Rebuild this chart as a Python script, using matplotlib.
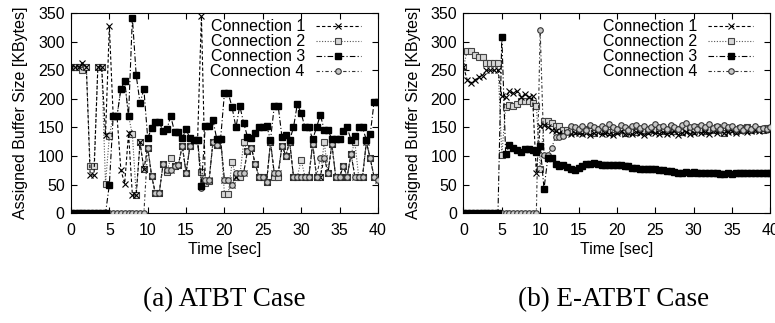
import numpy as np
import matplotlib.pyplot as plt

# time axis, one sample every 0.5 sec
t = np.arange(81) * 0.5

# (a) ATBT case
atbt_c1 = [256, 256, 256, 263, 256, 67, 67, 256, 256, 137,
           327, 170, 170, 76, 52, 140, 32, 32, 124, 77,
           115, 66, 35, 35, 86, 75, 75, 83, 85, 118,
           71, 117, 128, 128, 345, 58, 58, 124, 120, 130,
           58, 58, 50, 64, 70, 70, 109, 115, 87, 64,
           64, 55, 125, 70, 70, 118, 101, 125, 64, 64,
           64, 64, 64, 122, 64, 64, 97, 71, 121, 64,
           64, 82, 64, 104, 64, 64, 64, 124, 96, 64,
           58]
atbt_c2 = [256, 256, 256, 250, 256, 83, 83, 256, 256, 52,
           135, 170, 170, 217, 231, 170, 138, 32, 124, 77,
           115, 66, 35, 35, 86, 73, 96, 83, 85, 118,
           71, 117, 128, 128, 73, 53, 57, 125, 120, 130,
           34, 34, 90, 64, 64, 124, 109, 115, 87, 64,
           64, 55, 125, 64, 64, 118, 101, 125, 64, 64,
           93, 64, 64, 122, 64, 64, 125, 71, 121, 64,
           64, 82, 64, 104, 124, 64, 64, 128, 96, 64,
           64]
atbt_c3 = [0, 0, 0, 0, 0, 0, 0, 0, 0, 0,
           50, 170, 170, 217, 231, 170, 342, 241, 193, 217,
           131, 149, 160, 160, 143, 147, 170, 142, 142, 131,
           147, 131, 128, 128, 48, 152, 152, 163, 130, 130,
           210, 210, 185, 150, 188, 158, 134, 131, 141, 150,
           150, 153, 128, 188, 188, 133, 137, 128, 150, 191,
           175, 150, 150, 129, 150, 172, 146, 146, 129, 129,
           129, 143, 150, 128, 135, 150, 150, 128, 138, 194,
           194]
atbt_c4 = [0, 0, 0, 0, 0, 0, 0, 0, 0, 0,
           0, 0, 0, 0, 0, 0, 0, 0, 0, 0,
           115, 66, 35, 35, 86, 75, 75, 83, 85, 118,
           71, 117, 128, 128, 44, 58, 58, 124, 120, 130,
           58, 58, 50, 70, 70, 70, 109, 115, 87, 64,
           64, 55, 125, 70, 70, 118, 101, 125, 64, 64,
           64, 64, 64, 122, 64, 97, 97, 71, 121, 64,
           64, 82, 64, 104, 64, 64, 64, 124, 96, 64,
           58]

# (b) E-ATBT case
eatbt_c1 = [256, 233, 228, 233, 239, 240, 250, 250, 250, 250,
            205, 203, 213, 210, 213, 204, 208, 203, 205, 70,
            152, 154, 150, 146, 143, 140, 138, 140, 138, 140,
            140, 139, 141, 137, 140, 142, 138, 141, 139, 136,
            140, 143, 139, 141, 138, 142, 140, 137, 141, 143,
            140, 139, 142, 138, 141, 143, 137, 140, 142, 139,
            141, 144, 140, 142, 139, 143, 141, 145, 140, 142,
            144, 141, 143, 145, 142, 144, 146, 143, 145, 147,
            145]
eatbt_c2 = [256, 284, 284, 277, 273, 273, 262, 262, 262, 262,
            102, 186, 190, 188, 191, 196, 196, 196, 192, 188,
            78, 162, 162, 157, 152, 153, 146, 145, 144, 144,
            146, 143, 148, 144, 141, 147, 143, 145, 142, 148,
            144, 146, 141, 147, 144, 142, 148, 145, 143, 147,
            145, 149, 143, 146, 150, 144, 147, 142, 149, 146,
            144, 150, 147, 143, 148, 145, 150, 146, 141, 148,
            147, 144, 149, 146, 150, 145, 148, 147, 146, 149,
            147]
eatbt_c3 = [0, 0, 0, 0, 0, 0, 0, 0, 0, 0,
            309, 104, 119, 115, 111, 107, 112, 113, 111, 108,
            118, 43, 97, 96, 87, 82, 85, 81, 78, 76,
            79, 82, 86, 86, 88, 87, 85, 85, 84, 85,
            84, 85, 83, 82, 80, 79, 78, 78, 78, 77,
            77, 76, 75, 74, 74, 73, 71, 71, 72, 71,
            72, 71, 71, 70, 71, 70, 70, 69, 69, 70,
            69, 70, 70, 71, 70, 71, 70, 70, 70, 71,
            71]
eatbt_c4 = [0, 0, 0, 0, 0, 0, 0, 0, 0, 0,
            0, 0, 0, 0, 0, 0, 0, 0, 0, 0,
            320, 102, 102, 114, 134, 133, 135, 142, 152, 150,
            148, 152, 146, 155, 150, 147, 153, 149, 156, 151,
            148, 154, 150, 146, 152, 155, 149, 153, 147, 151,
            156, 150, 153, 148, 155, 151, 147, 154, 157, 150,
            153, 148, 155, 151, 156, 149, 152, 147, 154, 150,
            153, 148, 151, 146, 150, 148, 152, 147, 149, 148,
            150]

labels = ["Connection 1", "Connection 2", "Connection 3", "Connection 4"]
captions = ["(a) ATBT Case", "(b) E-ATBT Case"]

plt.rcParams['font.family'] = ['Liberation Sans', 'DejaVu Sans']
plt.rcParams['font.size'] = 11.5


def draw_panel(ax, c1, c2, c3, c4):
    l2, = ax.plot(t, c2, linestyle=(0, (1, 1.5)), color='#555555', lw=0.8,
                  marker='s', ms=4, mfc='#d8d8d8', mec='#444444', mew=0.8, zorder=2)
    l1, = ax.plot(t, c1, linestyle=(0, (3, 2)), color='black', lw=0.8,
                  marker='x', ms=4, mec='black', mew=0.8, zorder=3)
    l4, = ax.plot(t, c4, linestyle=(0, (3, 2, 1, 2)), color='#333333', lw=0.8,
                  marker='o', ms=4, mfc='#c8c8c8', mec='#333333', mew=0.8, zorder=4)
    l3, = ax.plot(t, c3, linestyle=(0, (5, 2, 1, 2)), color='black', lw=0.8,
                  marker='s', ms=4.5, mfc='black', mec='black', zorder=5)
    ax.set_xlim(0, 40)
    ax.set_ylim(0, 350)
    ax.set_xticks(range(0, 41, 5))
    ax.set_yticks(range(0, 351, 50))
    ax.tick_params(direction='in', top=True, right=True, length=4, width=0.8)
    ax.tick_params(axis='x', pad=7)
    ax.tick_params(axis='y', pad=4.5)
    ax.set_xlabel("Time [sec]", labelpad=3)
    ax.set_ylabel("Assigned Buffer Size [KBytes]", labelpad=7)
    ax.legend([l1, l2, l3, l4], labels, loc='upper right', frameon=False,
              markerfirst=False, handlelength=2.8, handletextpad=0.7,
              labelspacing=0.0, borderaxespad=0.0,
              bbox_to_anchor=(0.965, 1.0))


fig = plt.figure(figsize=(7.75, 3.23), dpi=100)
ax1 = fig.add_axes([0.0916, 0.3396, 0.396, 0.620])
ax2 = fig.add_axes([0.598, 0.3396, 0.396, 0.620])
draw_panel(ax1, atbt_c1, atbt_c2, atbt_c3, atbt_c4)
draw_panel(ax2, eatbt_c1, eatbt_c2, eatbt_c3, eatbt_c4)

fig.text(0.289, 0.071, captions[0], ha='center', va='center',
         family='Liberation Serif', fontsize=19.5)
fig.text(0.792, 0.071, captions[1], ha='center', va='center',
         family='Liberation Serif', fontsize=19.5)

fig.savefig("out.png", dpi=100)
